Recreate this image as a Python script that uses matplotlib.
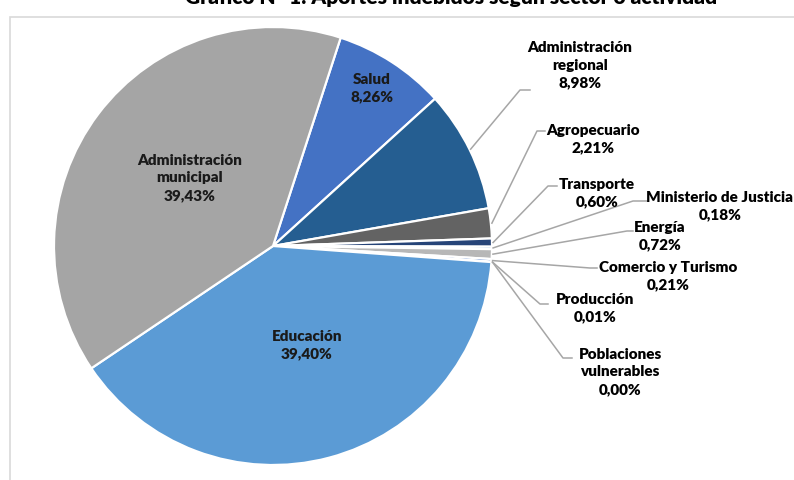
import numpy as np
import matplotlib
matplotlib.use('Agg')
import matplotlib.pyplot as plt
from matplotlib.patches import Rectangle

# datos (porcentajes), orden horario desde "Salud"
sectores = ['Salud', 'Administración\nregional', 'Agropecuario', 'Transporte',
            'Ministerio de Justicia', 'Energía', 'Comercio y Turismo', 'Producción',
            'Poblaciones\nvulnerables', 'Educación', 'Administración\nmunicipal']
valores = [8.26, 8.98, 2.21, 0.60, 0.18, 0.72, 0.21, 0.01, 0.00, 39.40, 39.43]
colores = ['#4472C4', '#255E91', '#636363', '#264478', '#7CAFDD', '#B7B7B7',
           '#698ED0', '#327DC2', '#7B7B7B', '#5B9BD5', '#A5A5A5']
titulo = 'Gráfico N° 1: Aportes indebidos según sector o actividad'

W, H = 794, 480
CX, CY, R = 273, 246, 219

plt.rcParams['font.family'] = ['Lato', 'DejaVu Sans']
fig = plt.figure(figsize=(W / 100, H / 100), dpi=100)

# marco del area del grafico
fig.patches.append(Rectangle((10 / W, -0.1), 1.1, (H - 17) / H + 0.1, transform=fig.transFigure,
                             fill=False, edgecolor='#D9D9D9', linewidth=1.2))
fig.text(451 / W, 1 - 4 / H, titulo, ha='center', va='baseline', fontsize=15, fontweight='heavy')

ax = fig.add_axes([(CX - R) / W, (H - CY - R) / H, 2 * R / W, 2 * R / H])

wedges, _ = ax.pie(valores, colors=colores, startangle=72, counterclock=False, radius=1,
                   wedgeprops=dict(edgecolor='white', linewidth=1.6))
ax.set_xlim(-1, 1)
ax.set_ylim(-1, 1)
ax.axis('off')


def px(x, y):
    return (x - CX) / R, (CY - y) / R


def etiqueta(i):
    return sectores[i] + '\n' + f'{valores[i]:.2f}'.replace('.', ',') + '%'


fs = 11
ls = 1.45
# etiquetas dentro
inside = {0: (372, 88), 10: (190, 178), 9: (307, 345)}
for i, (x, y) in inside.items():
    ax.text(*px(x, y), etiqueta(i), ha='center', va='center', fontsize=fs,
            fontweight='heavy', linespacing=ls, color='#1a1a1a')

# etiquetas fuera: centro del texto, codo y fin de la linea guia
outside = {
    1: ((580, 65), (520, 90), (530, 90)),
    2: ((593, 139), (537, 131), (545, 131)),
    3: ((597, 193), (548, 186), (557, 186)),
    4: ((720, 206), (633, 201), (647, 201)),
    5: ((660, 236), (627, 231), (633, 231)),
    6: ((668, 276), (590, 268), (597, 268)),
    7: ((595, 308), (540, 304), (548, 304)),
    8: ((620, 372), (563, 358), (572, 358)),
}
for i, (tpos, codo, fin) in outside.items():
    w = wedges[i]
    ang = np.deg2rad((w.theta1 + w.theta2) / 2)
    x0, y0 = 1.005 * np.cos(ang), 1.005 * np.sin(ang)
    c = px(*codo)
    f = px(*fin)
    ax.plot([x0, c[0], f[0]], [y0, c[1], f[1]], color='#A6A6A6', lw=1.1, clip_on=False)
    ax.text(*px(*tpos), etiqueta(i), ha='center', va='center', fontsize=fs,
            fontweight='heavy', linespacing=ls, clip_on=False)

fig.savefig('out.png', dpi=100)
